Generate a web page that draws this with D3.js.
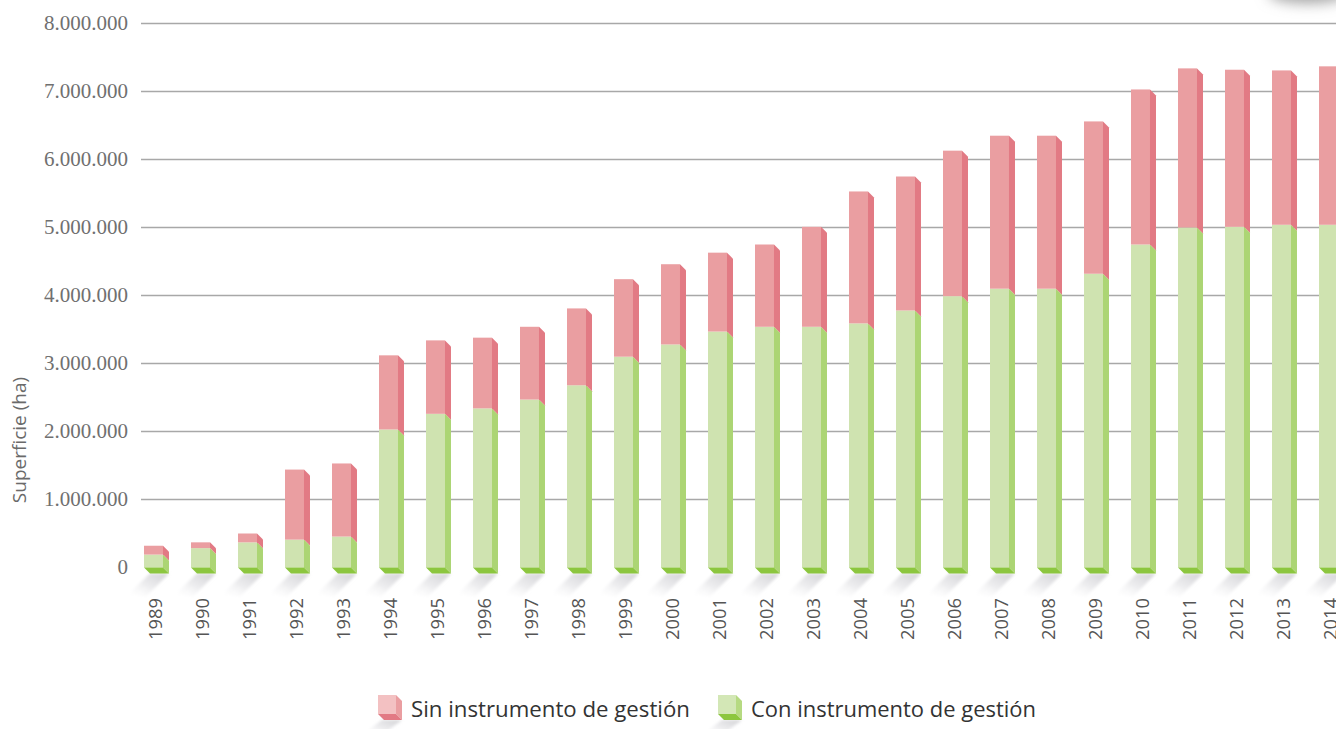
<!DOCTYPE html>
<html>
<head>
<meta charset="utf-8">
<script src="https://cdn.jsdelivr.net/npm/d3@7"></script>
<style>
  body { margin: 0; background: #fff; }
  svg { display: block; }
</style>
</head>
<body>
<script>
// years on the x axis
var years = ["1989","1990","1991","1992","1993","1994","1995","1996","1997","1998","1999","2000","2001",
             "2002","2003","2004","2005","2006","2007","2008","2009","2010","2011","2012","2013","2014"];
// superficie (ha) con instrumento de gestion
var conInstrumento = [190000, 285000, 370000, 410000, 455000, 2030000, 2260000, 2340000, 2470000, 2680000,
                      3100000, 3280000, 3470000, 3540000, 3540000, 3590000, 3780000, 3990000, 4100000, 4100000,
                      4320000, 4750000, 5000000, 5010000, 5040000, 5040000];
// superficie (ha) sin instrumento de gestion
var sinInstrumento = [130000, 85000, 130000, 1030000, 1075000, 1090000, 1080000, 1040000, 1070000, 1130000,
                      1140000, 1180000, 1160000, 1210000, 1470000, 1940000, 1970000, 2140000, 2250000, 2250000,
                      2240000, 2280000, 2340000, 2310000, 2270000, 2330000];
var yTicks = [0, 1000000, 2000000, 3000000, 4000000, 5000000, 6000000, 7000000, 8000000];
var seriesNames = ["Sin instrumento de gestión", "Con instrumento de gestión"];

var W = 1336, H = 729;
var depth = 6;

var svg = d3.select("body").append("svg")
  .attr("width", W)
  .attr("height", H);

var defs = svg.append("defs");
var sg = defs.append("linearGradient").attr("id", "shadowGrad")
  .attr("x1", "1").attr("y1", "0").attr("x2", "0").attr("y2", "1");
sg.append("stop").attr("offset", "0").attr("stop-color", "#d2d2d5");
sg.append("stop").attr("offset", "0.5").attr("stop-color", "#ececee");
sg.append("stop").attr("offset", "1").attr("stop-color", "#ffffff").attr("stop-opacity", 0);
defs.append("filter").attr("id", "soft")
  .append("feGaussianBlur").attr("stdDeviation", 1.8);
defs.append("filter").attr("id", "blurBig").attr("x", "-50%").attr("y", "-200%").attr("width", "200%").attr("height", "500%")
  .append("feGaussianBlur").attr("stdDeviation", 7);

// grey blob at the top right corner
svg.append("ellipse")
  .attr("cx", 1308).attr("cy", -7).attr("rx", 40).attr("ry", 10)
  .style("fill", "#a0a0a0")
  .attr("filter", "url(#blurBig)");

var x = d3.scaleBand()
  .domain(years)
  .range([130, 130 + 26 * 47])
  .paddingInner(0.596)
  .paddingOuter(0.298);

var y = d3.scaleLinear()
  .domain([0, 8000000])
  .range([567.5, 23.5]);

var fmt = function(d) { return d3.format(",")(d).replace(/,/g, "."); };

// grid lines
svg.append("g").selectAll("line")
  .data(yTicks.filter(function(d) { return d > 0; }))
  .enter().append("line")
  .attr("x1", 141).attr("x2", W)
  .attr("y1", function(d) { return y(d); })
  .attr("y2", function(d) { return y(d); })
  .attr("stroke", "#a8a8a8")
  .attr("stroke-width", 1.3);

// y tick labels
svg.append("g").selectAll("text")
  .data(yTicks)
  .enter().append("text")
  .attr("x", 128)
  .attr("y", function(d) { return y(d); })
  .attr("dy", "0.33em")
  .attr("text-anchor", "end")
  .style("font-family", "'Liberation Serif', serif")
  .style("font-size", "21px")
  .style("fill", "#707070")
  .text(fmt);

// y axis title
svg.append("text")
  .attr("transform", "translate(26,440) rotate(-90)")
  .attr("text-anchor", "middle")
  .style("font-family", "'Open Sans', sans-serif")
  .style("font-size", "19px")
  .style("fill", "#6a6a6a")
  .text("Superficie (ha)");

var data = years.map(function(yr, i) {
  return { year: yr, con: conInstrumento[i], sin: sinInstrumento[i] };
});

var bw = x.bandwidth();
var base = y(0);

function pts(arr) { return arr.map(function(p) { return p.join(","); }).join(" "); }

var bars = svg.append("g").selectAll("g")
  .data(data)
  .enter().append("g");

// soft shadow under each bar
bars.append("polygon")
  .attr("points", function(d) {
    var x0 = x(d.year);
    return pts([[x0 + depth, base + depth], [x0 + bw + depth, base + depth],
                [x0 + bw - 17, base + 29], [x0 - 18, base + 29]]);
  })
  .style("fill", "url(#shadowGrad)")
  .attr("filter", "url(#soft)");

// green part
bars.append("rect")
  .attr("x", function(d) { return x(d.year); })
  .attr("y", function(d) { return y(d.con); })
  .attr("width", bw)
  .attr("height", function(d) { return base - y(d.con); })
  .style("fill", "#cfe3b0");
bars.append("polygon")
  .attr("points", function(d) {
    var x1 = x(d.year) + bw, t = y(d.con);
    return pts([[x1, t], [x1 + depth, t + depth], [x1 + depth, base + depth], [x1, base]]);
  })
  .style("fill", "#acd574");

// pink part
bars.append("rect")
  .attr("x", function(d) { return x(d.year); })
  .attr("y", function(d) { return y(d.con + d.sin); })
  .attr("width", bw)
  .attr("height", function(d) { return y(d.con) - y(d.con + d.sin); })
  .style("fill", "#ea9ea1");
bars.append("polygon")
  .attr("points", function(d) {
    var x1 = x(d.year) + bw, t = y(d.con + d.sin), b = y(d.con);
    return pts([[x1, t], [x1 + depth, t + depth], [x1 + depth, b + depth], [x1, b]]);
  })
  .style("fill", "#e27a84");

// bottom face
bars.append("polygon")
  .attr("points", function(d) {
    var x0 = x(d.year);
    return pts([[x0, base], [x0 + bw, base], [x0 + bw + depth, base + depth], [x0 + depth, base + depth]]);
  })
  .style("fill", "#8cc63f");

// year labels
svg.append("g").selectAll("text")
  .data(years)
  .enter().append("text")
  .attr("transform", function(d) { return "translate(" + (x(d) + bw / 2 + 2) + ",598) rotate(-90)"; })
  .attr("dy", "0.35em")
  .attr("text-anchor", "end")
  .attr("textLength", 42)
  .attr("lengthAdjust", "spacingAndGlyphs")
  .style("font-family", "'Open Sans', sans-serif")
  .style("font-size", "18px")
  .style("fill", "#555")
  .text(function(d) { return d; });

// legend
var legend = [
  { name: seriesNames[0], front: "#f3c1c2", side: "#ea9ea1", bottom: "#e27a84", x: 378 },
  { name: seriesNames[1], front: "#d3e7b6", side: "#b6da82", bottom: "#8cc63f", x: 718 }
];
var lg = svg.append("g").selectAll("g")
  .data(legend)
  .enter().append("g");
lg.append("polygon")
  .attr("points", function(d) {
    return pts([[d.x + 4, 720], [d.x + 24, 720], [d.x + 4, 735], [d.x - 16, 735]]);
  })
  .style("fill", "url(#shadowGrad)")
  .attr("filter", "url(#soft)");
lg.append("rect")
  .attr("x", function(d) { return d.x; })
  .attr("y", 695)
  .attr("width", 18)
  .attr("height", 19)
  .style("fill", function(d) { return d.front; });
lg.append("polygon")
  .attr("points", function(d) {
    return pts([[d.x + 18, 695], [d.x + 24, 701], [d.x + 24, 720], [d.x + 18, 714]]);
  })
  .style("fill", function(d) { return d.side; });
lg.append("polygon")
  .attr("points", function(d) {
    return pts([[d.x, 714], [d.x + 18, 714], [d.x + 24, 720], [d.x + 6, 720]]);
  })
  .style("fill", function(d) { return d.bottom; });
lg.append("text")
  .attr("x", function(d) { return d.x + 33; })
  .attr("y", 717)
  .attr("textLength", function(d, i) { return i === 0 ? 279 : 285; })
  .attr("lengthAdjust", "spacingAndGlyphs")
  .style("font-family", "'Open Sans', sans-serif")
  .style("font-size", "21px")
  .style("fill", "#333")
  .text(function(d) { return d.name; });
</script>
</body>
</html>
